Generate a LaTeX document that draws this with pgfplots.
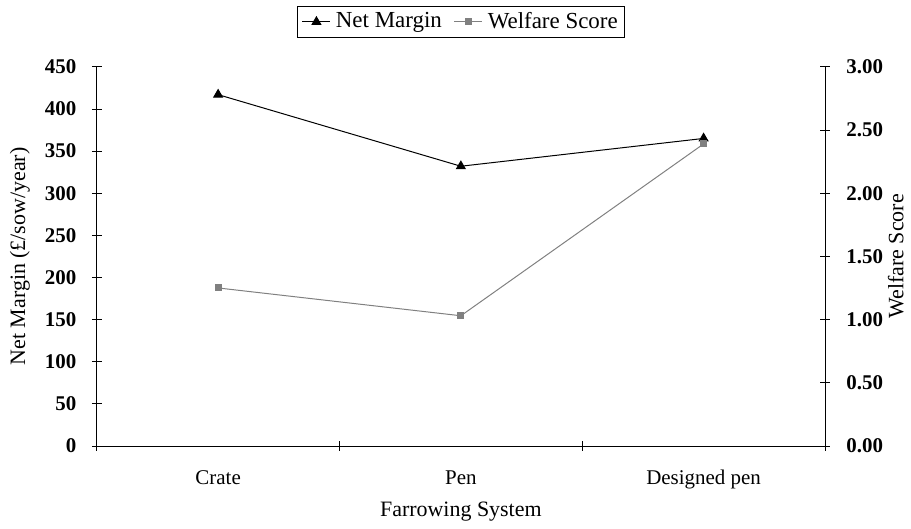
\documentclass[border=0pt]{standalone}
\usepackage{fontspec}
\setmainfont{Liberation Serif}
\usepackage{pgfplots}
\pgfplotsset{compat=1.18}

\pgfplotstableread{
x margin welfare
1 417 1.25
2 332 1.03
3 365 2.39
}\farrowing

\begin{document}
\fontsize{22}{26}\selectfont
\begin{tikzpicture}
\pgfplotsset{
  every axis/.append style={
    scale only axis,
    width=730pt, height=380pt,
    xmin=0.5, xmax=3.5,
    tick align=center,
    major tick length=10pt,
    /pgf/number format/assume math mode=true,
    tick label style={font=\fontsize{21}{25}\selectfont},
    label style={font=\fontsize{22}{26}\selectfont},
    axis line style={line width=0.8pt},
    every tick/.style={black, line width=0.8pt},
  },
}
\begin{axis}[
    name=ax,
    axis x line*=bottom,
    axis y line*=left,
    ymin=0, ymax=450,
    ytick distance=50,
    yticklabel style={font=\fontsize{21}{25}\selectfont\bfseries, xshift=-8pt},
    xtick={0.5,1.5,2.5,3.5},
    xticklabels={},
    extra x ticks={1,2,3},
    extra x tick labels={Crate,Pen,Designed pen},
    extra x tick style={major tick length=0pt},
    xticklabel style={yshift=-17pt},
    xlabel={Farrowing System},
    xlabel style={at={(axis description cs:0.5,0)}, anchor=center, yshift=-66pt},
    ylabel={Net Margin (£/sow/year)},
    ylabel style={at={(axis description cs:0,0.5)}, anchor=center, yshift=77pt},
    legend columns=2,
    legend style={at={(0.5,1)}, yshift=29pt, anchor=south, draw=black, line width=0.6pt,
      font=\fontsize{23}{27}\selectfont, inner xsep=5pt, inner ysep=4pt,
      /tikz/every even column/.style={column sep=10pt},
      /tikz/every odd column/.style={column sep=3pt}},
    legend image code/.code={
      \draw[mark repeat=2, mark phase=2, #1] plot coordinates {(0pt,0pt) (14pt,0pt) (28pt,0pt)};
    },
]
\addplot[black, line width=1pt, mark=triangle*, mark size=5pt] table[x=x, y=margin] {\farrowing};
\addlegendentry{Net Margin}
\addlegendimage{gray, line width=1pt, mark=square*, mark size=3pt}
\addlegendentry{Welfare Score}
\end{axis}
\begin{axis}[
    axis x line=none,
    axis y line*=right,
    ymin=0, ymax=3,
    ytick distance=0.5,
    yticklabel style={font=\fontsize{21}{25}\selectfont\bfseries, xshift=9pt,
      /pgf/number format/.cd, fixed, fixed zerofill, precision=2},
    ylabel={Welfare Score},
    ylabel style={at={(axis description cs:1,0.5)}, anchor=center, yshift=-71pt},
]
\addplot[gray, line width=1pt, mark=square*, mark size=3pt] table[x=x, y=welfare] {\farrowing};
\end{axis}
% fix the page to the reference's margins round the axis
\path ([xshift=-97pt, yshift=-80pt]ax.south west) ([xshift=84pt, yshift=67pt]ax.north east);
\end{tikzpicture}
\end{document}
